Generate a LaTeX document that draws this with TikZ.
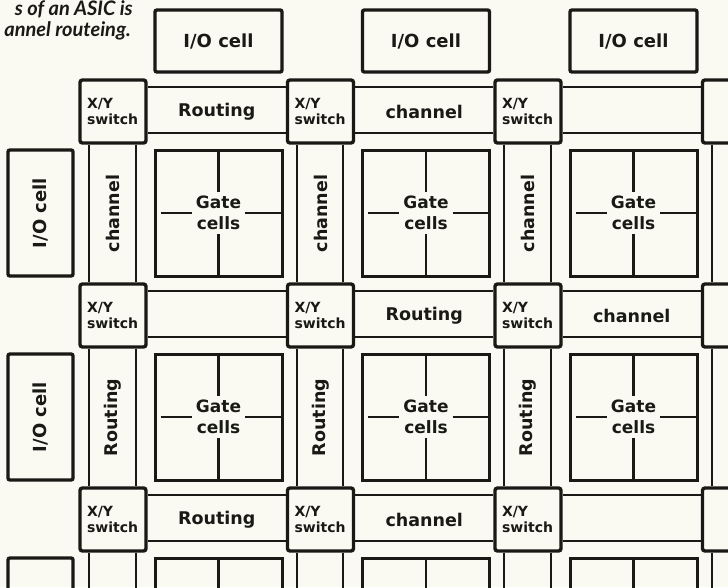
\documentclass[tikz,border=0pt]{standalone}
\usepackage{fontspec}
\setmainfont{DejaVu Sans}
\newfontfamily\capfont{Lato}
\usetikzlibrary{calc}

\definecolor{paper}{RGB}{250,250,242}
\definecolor{ink}{RGB}{25,25,22}

\tikzset{
  iocell/.style={draw, color=ink, line width=3.4pt, rounded corners=2pt, minimum width=127pt, minimum height=62pt, inner sep=0pt, font=\fontsize{18}{20}\selectfont\bfseries},
  sideio/.style={iocell, rotate=90, minimum width=126pt, minimum height=65pt},
  xyswitch/.style={draw, color=ink, line width=3.4pt, rounded corners=2.5pt, minimum width=66pt, minimum height=63pt, inner sep=0pt, align=left, font=\fontsize{14}{16}\selectfont\bfseries},
  gateblock/.style={draw, color=ink, line width=3pt, minimum width=127pt, minimum height=126pt, inner sep=0pt},
  gatetext/.style={color=ink, inner sep=4pt, align=center, font=\fontsize{17}{21}\selectfont\bfseries},
  gatecross/.style={ink, line width=2.4pt},
  chan/.style={ink, line width=2pt},
  chanlbl/.style={color=ink, inner sep=0pt, font=\fontsize{17.5}{20}\selectfont\bfseries},
  vchanlbl/.style={chanlbl, rotate=90},
  caption/.style={color=ink, inner sep=0pt, font=\capfont\fontsize{20}{24}\selectfont\bfseries\itshape}
}

\begin{document}
\begin{tikzpicture}[x=1pt, y=-1pt]
\fill[paper] (0,0) rectangle (728,587);
\useasboundingbox (0,0) rectangle (728,587);
\clip (0,0) rectangle (728,587);

% caption, cut off by the frame
\node[caption, anchor=base east] (cap1) at (133,15) {s of an ASIC is};
\node[caption, anchor=base east] (cap2) at (131,36) {annel routeing.};

% X/Y switches
\foreach \i in {0,1,2}
  \foreach \j in {0,1,2}
    \node[xyswitch] (sw-\i-\j) at ({113+207.5*\i},{111.5+204*\j}) {\raisebox{-2pt}{\parbox{52pt}{X/Y\\switch}}};
\foreach \j in {0,1,2}
  \node[xyswitch] (sw-3-\j) at (735.5,{111.5+204*\j}) {};

% horizontal channels
\foreach \i [evaluate=\i as \k using int(\i+1)] in {0,1,2}
  \foreach \j in {0,1,2} {
    \draw[chan] ([yshift=-9pt]sw-\i-\j.north east) -- ([yshift=-9pt]sw-\k-\j.north west);
    \draw[chan] ([yshift=12pt]sw-\i-\j.south east) -- ([yshift=12pt]sw-\k-\j.south west);
  }

% vertical channels
\foreach \i in {0,...,3} {
  \foreach \j [evaluate=\j as \k using int(\j+1)] in {0,1} {
    \draw[chan] ([xshift=11pt]sw-\i-\j.south west) -- ([xshift=11pt]sw-\i-\k.north west);
    \draw[chan] ([xshift=-12pt]sw-\i-\j.south east) -- ([xshift=-12pt]sw-\i-\k.north east);
  }
  \draw[chan] ([xshift=11pt]sw-\i-2.south west) -- ++(0,45);
  \draw[chan] ([xshift=-12pt]sw-\i-2.south east) -- ++(0,45);
}

% channel labels
\foreach \i/\k/\j/\txt in {0/1/0/Routing, 1/2/0/channel, 1/2/1/Routing, 2/3/1/channel, 0/1/2/Routing, 1/2/2/channel}
  \node[chanlbl] (hl-\i-\j) at ($(sw-\i-\j.east)!0.5!(sw-\k-\j.west)$) {\txt};
\foreach \i in {0,1,2} {
  \node[vchanlbl] (vc-\i) at ($(sw-\i-0.south)!0.5!(sw-\i-1.north)$) {channel};
  \node[vchanlbl] (vr-\i) at ($(sw-\i-1.south)!0.5!(sw-\i-2.north)$) {Routing};
}

% gate cell blocks
\foreach \i in {0,1,2} {
  \foreach \j in {0,1} {
    \node[gateblock] (gb-\i-\j) at ({218.5+207.5*\i},{213+204*\j}) {};
    \node[gatetext] (gt-\i-\j) at (gb-\i-\j) {Gate\\cells};
    \draw[gatecross] (gb-\i-\j.north) -- (gt-\i-\j.north);
    \draw[gatecross] (gt-\i-\j.south) -- (gb-\i-\j.south);
    \draw[gatecross] ([xshift=7pt]gb-\i-\j.west) -- (gt-\i-\j.west);
    \draw[gatecross] (gt-\i-\j.east) -- (gb-\i-\j.east);
  }
  \node[gateblock] (gb-\i-2) at ({218.5+207.5*\i},621) {};
  \draw[gatecross] (gb-\i-2.north) -- (gb-\i-2.center);
}

% I/O cells
\foreach \i in {0,1,2}
  \node[iocell] (io-t\i) at ({218.5+207.5*\i},41) {I/O cell};
\foreach \j in {0,1}
  \node[sideio] (io-s\j) at (40.5,{213+204*\j}) {I/O cell};
\node[sideio] (io-s2) at (40.5,621) {};
\end{tikzpicture}
\end{document}
